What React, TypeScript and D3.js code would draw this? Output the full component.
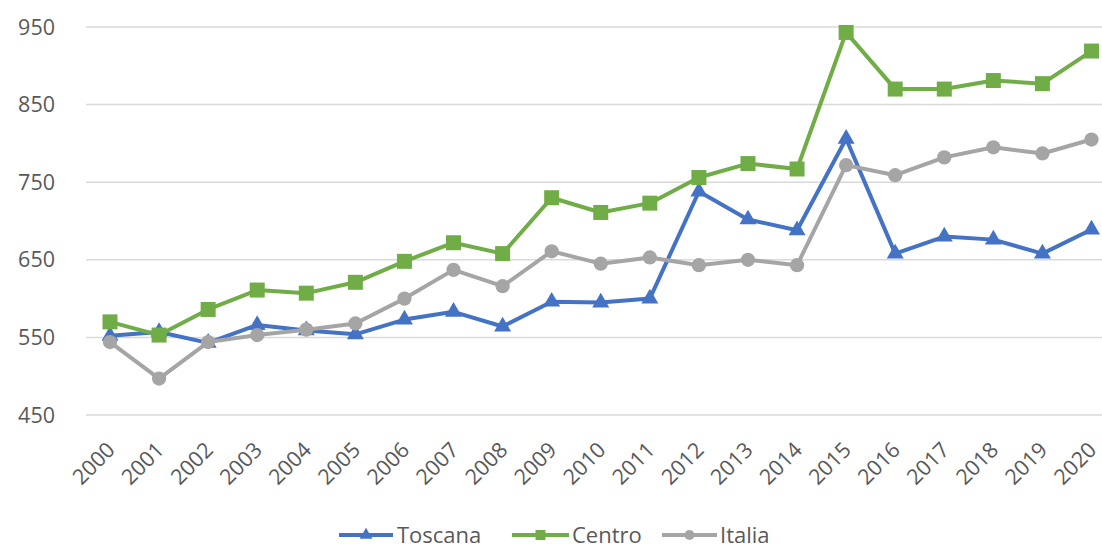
import React from "react";
import * as d3 from "d3";

const years = [
  "2000", "2001", "2002", "2003", "2004", "2005", "2006", "2007", "2008", "2009",
  "2010", "2011", "2012", "2013", "2014", "2015", "2016", "2017", "2018", "2019", "2020",
];

const toscana = [552, 557, 543, 566, 559, 554, 573, 583, 564, 596, 595, 600, 738, 702, 688, 806, 658, 680, 676, 658, 689];
const centro = [570, 553, 586, 611, 607, 621, 648, 672, 658, 730, 711, 723, 756, 774, 767, 943, 870, 870, 881, 877, 919];
const italia = [544, 497, 544, 553, 560, 568, 600, 637, 616, 661, 645, 653, 643, 650, 643, 772, 759, 782, 795, 787, 805];

const yTicks = [450, 550, 650, 750, 850, 950];

const seriesList = [
  { name: "Toscana", values: toscana, color: "#4472C4", symbol: d3.symbolTriangle, size: 125, legendSize: 70 },
  { name: "Centro", values: centro, color: "#70AD47", symbol: d3.symbolSquare, size: 225, legendSize: 100 },
  { name: "Italia", values: italia, color: "#A5A5A5", symbol: d3.symbolCircle, size: 160, legendSize: 80 },
];

const W = 1102;
const H = 547;
const FONT = "'Open Sans', 'Liberation Sans', sans-serif";
const TEXT = "#595959";

export default function App() {
  const x = d3.scalePoint<string>().domain(years).range([110, 1091.5]);
  const y = d3.scaleLinear().domain([450, 950]).range([415, 27]);

  const line = d3
    .line<number>()
    .x((_, i) => x(years[i]) as number)
    .y((d) => y(d));

  const legendItems = [
    { lineX0: 339, lineX1: 393, textX: 397 },
    { lineX0: 512, lineX1: 569, textX: 572 },
    { lineX0: 662, lineX1: 717, textX: 720 },
  ];
  const legendY = 535;

  return (
    <svg
      width={W}
      height={H}
      style={{ position: "absolute", left: 0, top: 0, background: "#fff" }}
      fontFamily={FONT}
    >
      {/* horizontal gridlines */}
      {yTicks.map((t) => (
        <line key={"g" + t} x1={86} x2={W} y1={y(t)} y2={y(t)} stroke="#D9D9D9" strokeWidth={1.5} />
      ))}

      {/* y tick labels */}
      {yTicks.map((t) => (
        <text key={"yl" + t} x={55} y={y(t) + 7.5} textAnchor="end" fontSize={21.5} fill={TEXT}>
          {t}
        </text>
      ))}

      {/* x tick labels, rotated */}
      {years.map((yr) => (
        <text
          key={"xl" + yr}
          transform={`translate(${(x(yr) as number) + 1},${446}) rotate(-45)`}
          textAnchor="end"
          dy="0.35em"
          fontSize={21.5}
          fill={TEXT}
        >
          {yr}
        </text>
      ))}

      {/* series */}
      {seriesList.map((s) => (
        <g key={s.name}>
          <path d={line(s.values) || ""} fill="none" stroke={s.color} strokeWidth={4} strokeLinejoin="round" />
          {s.values.map((v, i) => (
            <path
              key={i}
              d={d3.symbol().type(s.symbol).size(s.size)() || ""}
              transform={`translate(${x(years[i])},${y(v)})`}
              fill={s.color}
            />
          ))}
        </g>
      ))}

      {/* legend */}
      {seriesList.map((s, i) => {
        const li = legendItems[i];
        const cx = (li.lineX0 + li.lineX1) / 2;
        return (
          <g key={"lg" + s.name}>
            <line x1={li.lineX0} x2={li.lineX1} y1={legendY} y2={legendY} stroke={s.color} strokeWidth={4} />
            <path
              d={d3.symbol().type(s.symbol).size(s.legendSize)() || ""}
              transform={`translate(${cx},${legendY})`}
              fill={s.color}
            />
            <text x={li.textX} y={legendY + 7.5} fontSize={22} fill={TEXT}>
              {s.name}
            </text>
          </g>
        );
      })}
    </svg>
  );
}
